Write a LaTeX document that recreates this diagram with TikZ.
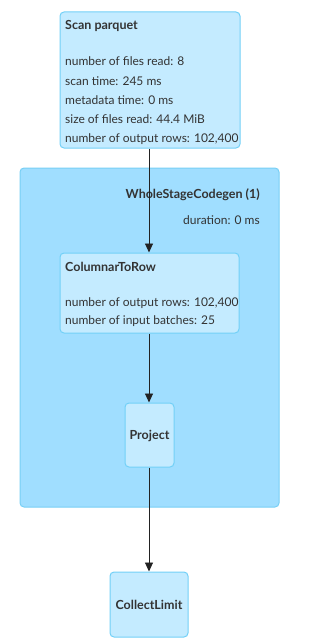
\documentclass[tikz,border=0pt]{standalone}
\usepackage{fontspec}
\setmainfont{Lato}
\usetikzlibrary{arrows.meta}
\definecolor{nodefill}{HTML}{C4EBFF}
\definecolor{nodeline}{HTML}{72D0F7}
\definecolor{clusterfill}{HTML}{A0DEFF}
\definecolor{clusterline}{HTML}{78CFF5}
\definecolor{txt}{HTML}{333333}
\definecolor{arrowc}{HTML}{222222}
\tikzset{
  opbox/.style={draw=nodeline, fill=nodefill, rounded corners=4pt, line width=1pt},
  cluster/.style={draw=clusterline, fill=clusterfill, rounded corners=4pt, line width=1pt},
  lbl/.style={text=txt, font=\fontsize{12}{14}\selectfont, inner sep=0pt, anchor=base west},
  ttl/.style={text=txt, font=\fontsize{12.5}{14}\selectfont\bfseries, inner sep=0pt},
  edge/.style={draw=arrowc, line width=0.9pt, -{Triangle[length=9pt,width=8pt]}}
}
\begin{document}
\begin{tikzpicture}[x=1pt,y=-1pt]
\useasboundingbox (0,0) rectangle (319,642);
% cluster
\draw[cluster] (20,168) rectangle (279,507);
\node[ttl, anchor=base east] (wsc) at (260,198) {WholeStageCodegen (1)};
\node[lbl, anchor=base east] (dur) at (260,224) {duration: 0 ms};
% scan parquet
\node[opbox, minimum width=180pt, minimum height=136pt, inner sep=0pt] (scan) at (150,80) {};
\node[ttl, anchor=base west] (scant) at (65,30) {Scan parquet};
\node[lbl] (s1) at (65,66) {number of files read: 8};
\node[lbl] (s2) at (65,85) {scan time: 245 ms};
\node[lbl] (s3) at (65,104) {metadata time: 0 ms};
\node[lbl] (s4) at (65,123) {size of files read: 44.4 MiB};
\node[lbl] (s5) at (65,142) {number of output rows: 102,400};
% columnar to row
\node[opbox, minimum width=179pt, minimum height=80pt, inner sep=0pt] (c2r) at (149.5,293) {};
\node[ttl, anchor=base west] (c2rt) at (65,271) {ColumnarToRow};
\node[lbl] (c1) at (65,306) {number of output rows: 102,400};
\node[lbl] (c2) at (65,324) {number of input batches: 25};
% project
\node[opbox, minimum width=49pt, minimum height=64pt, inner sep=0pt] (proj) at (149.5,435) {};
\node[ttl] (projt) at (149.5,436) {Project};
% collect limit
\node[opbox, minimum width=78pt, minimum height=65pt, inner sep=0pt] (coll) at (149,604.5) {};
\node[ttl] (collt) at (149,604.5) {CollectLimit};
% edges
\draw[edge] (scan.south -| 149,0) -- (c2r.north -| 149,0);
\draw[edge] (c2r.south -| 149,0) -- (proj.north -| 149,0);
\draw[edge] (proj.south -| 149,0) -- (coll.north -| 149,0);
\end{tikzpicture}
\end{document}
